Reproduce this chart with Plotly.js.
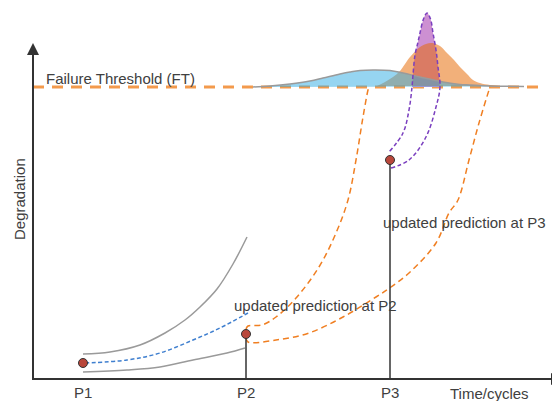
<!DOCTYPE html>
<html>
<head>
<meta charset="utf-8">
<script src="https://cdn.plot.ly/plotly-3.0.1.min.js"></script>
<style>html,body{margin:0;padding:0;background:#fff;}#chart{width:552px;height:401px;}</style>
</head>
<body>
<div id="chart"></div>
<script>
// ---- Data (time units on x, degradation units on y) ----
const tickLabels = ["P1", "P2", "P3"];
const tickTimes = [50, 213, 357];
const measuredDeg = [16, 45, 219];
const threshold = 292;

// prediction band at P1 (upper / lower bounds) and mean prediction
const p1UpperT = [50, 77, 107, 132, 152, 167, 184, 200, 214];
const p1UpperD = [25, 27, 34, 46, 59, 72, 90, 115, 142];
const p1LowerT = [50, 94, 127, 160, 194, 212];
const p1LowerD = [7, 9, 12, 19, 26, 31];
const p1MeanT = [52, 94, 127, 160, 187, 215];
const p1MeanD = [16, 19, 26, 39, 51, 66];

// updated prediction at P2 (upper / lower)
const p2UpperT = [213, 215, 229, 243, 263, 286, 303, 315, 323, 330, 335, 336];
const p2UpperD = [50, 53, 54, 62, 81, 112, 146, 179, 219, 262, 289, 292];
const p2LowerT = [213, 215, 243, 276, 310, 343, 358, 376, 403, 416, 425, 436, 446, 456, 457];
const p2LowerD = [41, 37, 39, 46, 62, 82, 92, 106, 136, 166, 179, 219, 256, 289, 292];

// updated prediction at P3 (lower track, upper track)
const p3LowerT = [358, 376, 393, 403, 407];
const p3LowerD = [211, 219, 242, 272, 292];
const p3UpperT = [356, 370, 376, 379];
const p3UpperD = [227, 246, 269, 292];

// RUL distributions sitting on the failure threshold
const purpleT = [379, 380, 382, 385, 387, 390.5, 394, 397.5, 400, 403, 405, 407];
const purpleD = [292, 304, 324, 337, 346, 360, 366, 360, 346, 329, 312, 292];
const orangeT = [344, 352, 360, 367, 372, 377, 387, 393, 399, 407, 414, 421, 427, 434, 440, 447, 457, 467];
const orangeD = [293, 297, 302, 308, 315, 322, 332, 335, 336, 333, 326, 319, 312, 305, 299, 296, 294, 293];
const blueT = [220, 237, 257, 277, 290, 307, 317, 327, 340, 357, 370, 387, 410, 427, 437, 457, 491];
const blueD = [292, 293, 295, 298, 301, 305, 307, 308.5, 309, 308.5, 306, 302, 297, 294.5, 294, 293, 292.5];

// ---- Styles ----
const font = "Liberation Sans, Arial, sans-serif";
const txt = "#404040";
const axisColor = "#333333";

const purpleLineT = p3LowerT.concat(purpleT.slice().reverse().slice(1, -1), p3UpperT.slice().reverse());
const purpleLineD = p3LowerD.concat(purpleD.slice().reverse().slice(1, -1), p3UpperD.slice().reverse());

const traces = [
  {x: [0, 508], y: [threshold, threshold], mode: "lines",
   line: {color: "#f39a4c", width: 3, dash: "11px,8px"}},
  {x: purpleT, y: purpleD, mode: "lines", fill: "toself", fillcolor: "#cd90d2",
   line: {width: 0, shape: "spline"}},
  {x: orangeT, y: orangeD, mode: "lines", fill: "toself", fillcolor: "rgba(230,103,0,0.52)",
   line: {width: 0, shape: "spline"}},
  {x: blueT, y: blueD, mode: "lines", fill: "toself", fillcolor: "rgba(45,171,227,0.5)",
   line: {width: 0, shape: "spline"}},
  {x: blueT, y: blueD, mode: "lines", line: {color: "#9a9a9a", width: 1.5, shape: "spline"}},
  {x: p1UpperT, y: p1UpperD, mode: "lines", line: {color: "#9a9a9a", width: 1.5, shape: "spline"}},
  {x: p1LowerT, y: p1LowerD, mode: "lines", line: {color: "#9a9a9a", width: 1.5, shape: "spline"}},
  {x: p1MeanT, y: p1MeanD, mode: "lines", line: {color: "#3f7fcf", width: 1.5, dash: "4px,2.5px", shape: "spline"}},
  {x: p2UpperT, y: p2UpperD, mode: "lines", line: {color: "#f07f22", width: 1.5, dash: "6px,4px", shape: "spline"}},
  {x: p2LowerT, y: p2LowerD, mode: "lines", line: {color: "#f07f22", width: 1.5, dash: "6px,4px", shape: "spline"}},
  {x: purpleLineT, y: purpleLineD, mode: "lines", line: {color: "#7a3fbf", width: 1.5, dash: "4px,2.5px", shape: "spline"}},
  // vertical drop lines at P2, P3
  {x: [tickTimes[1], tickTimes[1]], y: [0, measuredDeg[1]], mode: "lines", line: {color: axisColor, width: 1.5}},
  {x: [tickTimes[2], tickTimes[2]], y: [0, measuredDeg[2]], mode: "lines", line: {color: axisColor, width: 1.5}},
  {x: tickTimes, y: measuredDeg, mode: "markers",
   marker: {size: 9, color: "#b9473b", line: {color: "#333", width: 1}}}
];

const annotations = [
  {x: 11, y: 301, text: "Failure Threshold (FT)", xanchor: "left"},
  {x: 282.5, y: 74, text: "updated prediction at P2"},
  {x: 431, y: 157, text: "updated prediction at P3"},
  {x: 456, y: -14, text: "Time/cycles"},
  {x: -14, y: 180, text: "Degradation", textangle: -90}
].concat(tickLabels.map((l, i) => ({x: tickTimes[i], y: -13, text: l})))
 .map(a => Object.assign({xref: "x", yref: "y", showarrow: false, font: {family: font, size: 15, color: txt}}, a));

const shapes = [
  {type: "line", xref: "x", yref: "y", x0: 0, y0: 0, x1: 0, y1: 325, line: {color: axisColor, width: 2}},
  {type: "line", xref: "x", yref: "y", x0: -1, y0: 0, x1: 519, y1: 0, line: {color: axisColor, width: 2}},
  {type: "path", xref: "x", yref: "y", path: "M -6,324 L 0,336 L 6,324 Z", fillcolor: axisColor, line: {width: 0}},
  {type: "path", xref: "x", yref: "y", path: "M 518,-6 L 530,0 L 518,6 Z", fillcolor: axisColor, line: {width: 0}}
];

const layout = {
  width: 552, height: 401,
  margin: {l: 0, r: 0, t: 0, b: 0},
  paper_bgcolor: "#fff", plot_bgcolor: "#fff",
  showlegend: false,
  xaxis: {range: [-33, 519], visible: false, fixedrange: true},
  yaxis: {range: [-22, 379], visible: false, fixedrange: true},
  annotations: annotations,
  shapes: shapes
};

Plotly.newPlot("chart", traces, layout, {displayModeBar: false, staticPlot: true});
</script>
</body>
</html>
